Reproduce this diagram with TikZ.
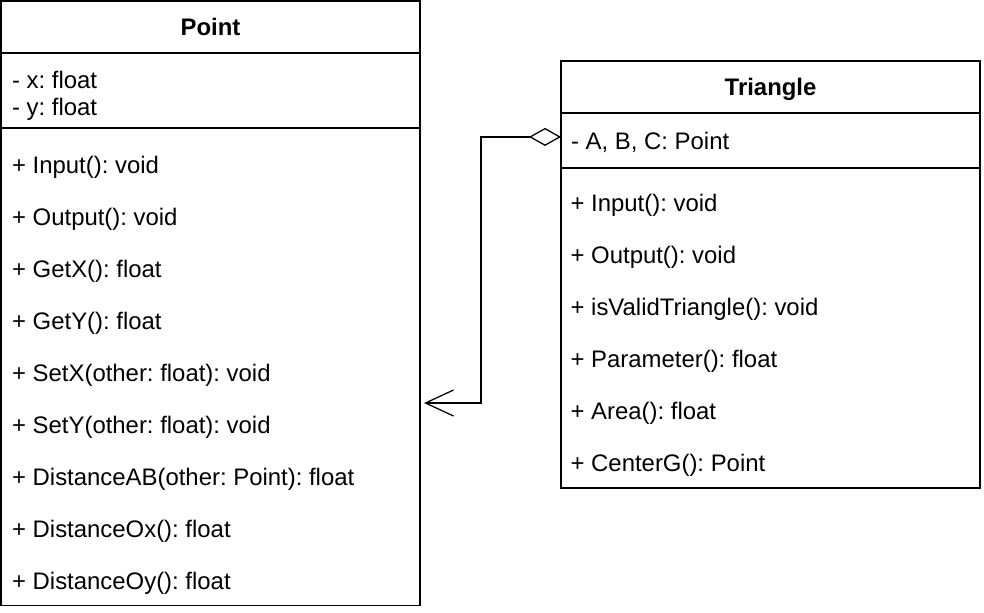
\documentclass[tikz,border=0pt]{standalone}
\usepackage{fontspec}
\setmainfont{Liberation Sans}
\usepackage{tikz}
\usetikzlibrary{positioning,arrows.meta}
\newcommand\umlfont{\fontsize{17pt}{20.4pt}\selectfont}
\frenchspacing

\begin{document}
\begin{tikzpicture}[x=0.025cm, y=-0.025cm, line width=0.9pt]
    \tikzstyle{part}=[rectangle,draw,outer sep=0pt,inner sep=0pt,minimum width=10.475cm]
    \tikzstyle{title}=[part,minimum height=1.3cm,font=\umlfont\bfseries,text height=12.2pt,text depth=0pt]
    \tikzstyle{member}=[inner sep=0pt,anchor=base west,font=\umlfont]
    \useasboundingbox (0,0) rectangle (984,612);
    % class Point
    \node[title,anchor=north west] (point) at (1,1) {Point};
    \node[part,below=0pt of point,minimum height=1.875cm] (pattr) {};
    \node[part,below=0pt of pattr,minimum height=11.925cm] (pops) {};
    \node[member] (px) at (11.5,88) {- x: float};
    \node[member] (py) at (11.5,115.5) {- y: float};
    \foreach \m [count=\i from 0] in {Input(): void,Output(): void,GetX(): float,GetY(): float,SetX(other: float): void,SetY(other: float): void,DistanceAB(other: Point): float,DistanceOx(): float,DistanceOy(): float}
        \node[member] (pm\i) at (11.5,{173+52*\i}) {+ \m};
    % class Triangle
    \node[title,anchor=north west] (triangle) at (561,61) {Triangle};
    \node[part,below=0pt of triangle,minimum height=1.375cm] (tattr) {};
    \node[part,below=0pt of tattr,minimum height=8cm] (tops) {};
    \node[member] (tabc) at (570.5,149) {- A, B, C: Point};
    \foreach \m [count=\i from 0] in {Input(): void,Output(): void,isValidTriangle(): void,Parameter(): float,Area(): float,CenterG(): Point}
        \node[member] (tm\i) at (570,{211+52*\i}) {+ \m};
    % aggregation
    \coordinate (ptip) at (424,403);
    \draw[{Diamond[open,length=0.8cm,width=0.45cm]}-{Straight Barb[length=0.7cm,width=0.65cm]}] ([yshift=0.09cm]tattr.west) -- ++(-80,0) |- (ptip);
\end{tikzpicture}
\end{document}
